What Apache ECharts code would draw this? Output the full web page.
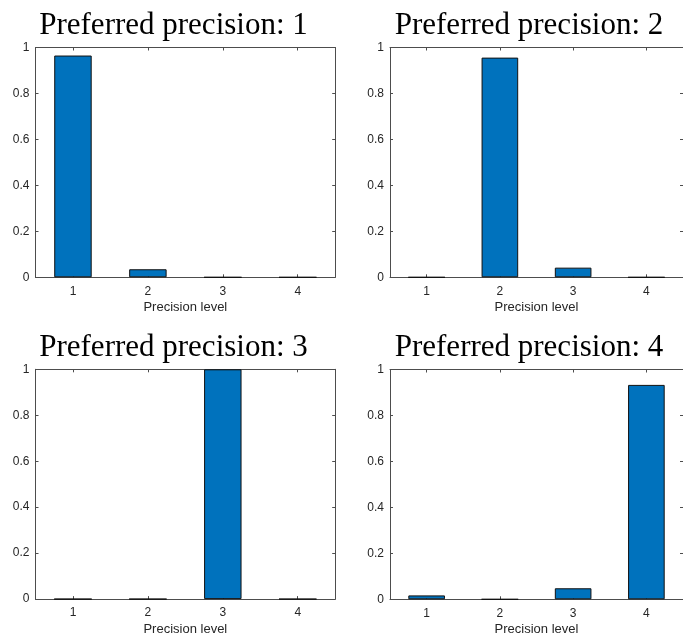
<!DOCTYPE html>
<html>
<head>
<meta charset="utf-8">
<script src="https://cdn.jsdelivr.net/npm/echarts@6/dist/echarts.min.js"></script>
<style>
html,body{margin:0;padding:0;background:#fff;}
#chart{width:683px;height:642px;}
</style>
</head>
<body>
<div id="chart"></div>
<script>
// ---- data ----
var categories = ['1', '2', '3', '4'];
var titles = ['Preferred precision: 1', 'Preferred precision: 2', 'Preferred precision: 3', 'Preferred precision: 4'];
var xLabel = 'Precision level';
var yTicks = [0, 0.2, 0.4, 0.6, 0.8, 1];
var pref1 = [0.965, 0.035, 0, 0];
var pref2 = [0, 0.956, 0.042, 0];
var pref3 = [0, 0, 1.0, 0];
var pref4 = [0.017, 0, 0.048, 0.933];

// ---- layout ----
var panels = [
  {data: pref1, left: 35.5, top: 47.5, width: 299.7, height: 229.8, titleX: 173.5, titleY: 10},
  {data: pref2, left: 390, top: 47.5, width: 300.5, height: 229.8, titleX: 529, titleY: 10},
  {data: pref3, left: 35.5, top: 369.3, width: 299.7, height: 229.8, titleX: 173.5, titleY: 332.5},
  {data: pref4, left: 390, top: 369.5, width: 300.5, height: 229.8, titleX: 529, titleY: 332.5}
];

var textColor = '#262626';
var lineColor = '#4d4d4d';
var grids = [], xAxes = [], yAxes = [], series = [], titleOpts = [];

panels.forEach(function (p, i) {
  grids.push({left: p.left, top: p.top, width: p.width, height: p.height, containLabel: false});
  titleOpts.push({
    text: titles[i], left: p.titleX, top: p.titleY, textAlign: 'center', padding: 0,
    textStyle: {fontFamily: 'Liberation Serif', fontSize: 31, fontWeight: 'normal', color: '#000'}
  });
  // bottom x axis
  xAxes.push({
    type: 'category', data: categories, gridIndex: i, position: 'bottom',
    boundaryGap: true,
    axisLine: {show: true, onZero: false, lineStyle: {color: lineColor, width: 1}},
    axisTick: {show: true, inside: true, alignWithLabel: true, length: 3, lineStyle: {color: lineColor}},
    axisLabel: {color: textColor, fontFamily: 'Liberation Sans', fontSize: 12, margin: 8},
    name: xLabel, nameLocation: 'middle', nameGap: 24,
    nameTextStyle: {color: textColor, fontFamily: 'Liberation Sans', fontSize: 13},
    splitLine: {show: false}
  });
  // top x axis (box)
  xAxes.push({
    type: 'category', data: categories, gridIndex: i, position: 'top',
    boundaryGap: true,
    axisLine: {show: true, onZero: false, lineStyle: {color: lineColor, width: 1}},
    axisTick: {show: true, inside: true, alignWithLabel: true, length: 3, lineStyle: {color: lineColor}},
    axisLabel: {show: false}, splitLine: {show: false}
  });
  // left y axis
  yAxes.push({
    type: 'value', gridIndex: i, position: 'left', min: 0, max: 1, interval: 0.2,
    axisLine: {show: true, onZero: false, lineStyle: {color: lineColor, width: 1}},
    axisTick: {show: true, inside: true, length: 3, lineStyle: {color: lineColor}},
    axisLabel: {color: textColor, fontFamily: 'Liberation Sans', fontSize: 12, margin: 6,
      formatter: function (v) { return String(Math.round(v * 10) / 10); }},
    splitLine: {show: false}
  });
  // right y axis (box)
  yAxes.push({
    type: 'value', gridIndex: i, position: 'right', min: 0, max: 1, interval: 0.2,
    axisLine: {show: true, onZero: false, lineStyle: {color: lineColor, width: 1}},
    axisTick: {show: true, inside: true, length: 3, lineStyle: {color: lineColor}},
    axisLabel: {show: false}, splitLine: {show: false}
  });
  series.push({
    type: 'bar', xAxisIndex: i * 2, yAxisIndex: i * 2, data: p.data,
    barWidth: '50%', silent: true,
    itemStyle: {color: '#0072BD', borderColor: '#111', borderWidth: 1}
  });
});

var chart = echarts.init(document.getElementById('chart'), null, {renderer: 'canvas'});
chart.setOption({
  animation: false,
  backgroundColor: '#fff',
  title: titleOpts,
  grid: grids,
  xAxis: xAxes,
  yAxis: yAxes,
  series: series
});
</script>
</body>
</html>
